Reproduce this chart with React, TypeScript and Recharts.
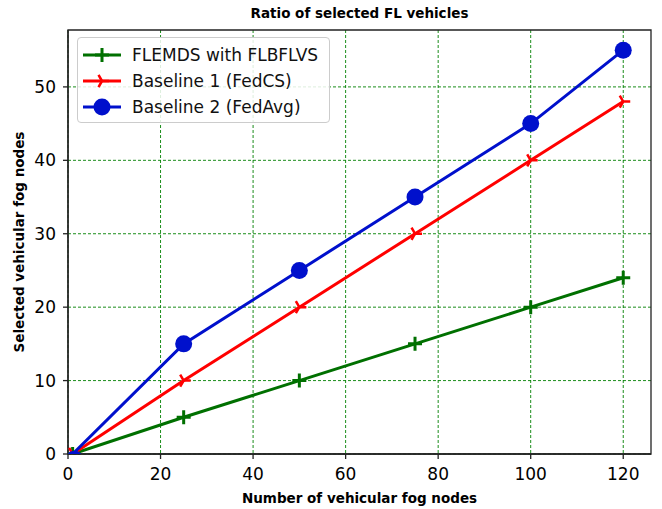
import React from "react";
import {
  LineChart,
  Line,
  XAxis,
  YAxis,
  CartesianGrid,
  Legend,
  ReferenceArea,
} from "recharts";

const nodes = [1, 25, 50, 75, 100, 120];
const flemds = [0, 5, 10, 15, 20, 24];
const fedcs = [0, 10, 20, 30, 40, 48];
const fedavg = [0, 15, 25, 35, 45, 55];
const xTicks = [0, 20, 40, 60, 80, 100, 120];
const yTicks = [0, 10, 20, 30, 40, 50];
const xMax = 126;
const yMax = 57.75;

const GREEN = "#007000";
const RED = "#ff0000";
const BLUE = "#0010cc";
const FONT = "'DejaVu Sans', sans-serif";

const data = nodes.map((n, i) => ({
  n,
  flemds: flemds[i],
  fedcs: fedcs[i],
  fedavg: fedavg[i],
}));

// markers sitting on the x axis are cut at the axis, like matplotlib's clipping
const plusPath = (cx: number, cy: number, half = false) =>
  `M${cx - 7},${cy}H${cx + 7}M${cx},${cy - 7}V${half ? cy : cy + 7}`;
const triPath = (cx: number, cy: number, half = false) =>
  `M${cx},${cy}L${cx + 7},${cy}M${cx},${cy}L${cx - 3.5},${cy - 6.06}` +
  (half ? "" : `M${cx},${cy}L${cx - 3.5},${cy + 6.06}`);

const PlusDot = (p: any) => (
  <path key={p.index} d={plusPath(p.cx, p.cy, p.value === 0)} stroke={GREEN} strokeWidth={3} fill="none" />
);
const TriDot = (p: any) => (
  <path key={p.index} d={triPath(p.cx, p.cy, p.value === 0)} stroke={RED} strokeWidth={2.5} fill="none" />
);
const CircleDot = (p: any) =>
  p.value === 0 ? (
    <path
      key={p.index}
      d={`M${p.cx - 5},${p.cy}A8.5,8.5 0 0 1 ${p.cx + 8.5},${p.cy}Z`}
      fill={BLUE}
    />
  ) : (
    <circle key={p.index} cx={p.cx} cy={p.cy} r={8.5} fill={BLUE} />
  );

const legendItems = [
  { label: "FLEMDS with FLBFLVS", color: GREEN, kind: "plus" },
  { label: "Baseline 1 (FedCS)", color: RED, kind: "tri" },
  { label: "Baseline 2 (FedAvg)", color: BLUE, kind: "circle" },
];

const LegendBox = () => (
  <div
    style={{
      border: "1px solid #cccccc",
      borderRadius: 4,
      background: "rgba(255,255,255,0.85)",
      padding: "4px 0 2px 4px",
      fontFamily: FONT,
      fontSize: 17,
      color: "#111",
    }}
  >
    {legendItems.map((it) => (
      <div key={it.label} style={{ display: "flex", alignItems: "center", height: 26 }}>
        <svg width={50} height={20} style={{ marginRight: 5 }}>
          <line x1={1} y1={10} x2={39} y2={10} stroke={it.color} strokeWidth={3} />
          {it.kind === "plus" && (
            <path d={plusPath(20, 10)} stroke={it.color} strokeWidth={3} fill="none" />
          )}
          {it.kind === "tri" && (
            <path d={triPath(20, 10)} stroke={it.color} strokeWidth={2.5} fill="none" />
          )}
          {it.kind === "circle" && <circle cx={20} cy={10} r={8.5} fill={it.color} />}
        </svg>
        <span style={{ marginLeft: -5, whiteSpace: "nowrap" }}>{it.label}</span>
      </div>
    ))}
  </div>
);

export default function App() {
  return (
    <div style={{ position: "absolute", left: 0, top: 0, width: 662, height: 509, background: "#fff" }}>
      <div
        style={{
          position: "absolute",
          left: 68,
          width: 583,
          top: 5,
          textAlign: "center",
          fontFamily: FONT,
          fontWeight: "bold",
          fontSize: 13.5,
          color: "#000",
        }}
      >
        Ratio of selected FL vehicles
      </div>
      <LineChart
        width={662}
        height={509}
        data={data}
        margin={{ top: 30, right: 11, left: 0, bottom: 0 }}
      >
        <CartesianGrid
          stroke="#008000"
          strokeDasharray="3 2"
          strokeWidth={0.9}
          verticalValues={xTicks}
          horizontalValues={yTicks}
        />
        <XAxis
          dataKey="n"
          type="number"
          domain={[0, xMax]}
          ticks={xTicks}
          allowDataOverflow
          height={55}
          tickSize={5}
          tickMargin={9}
          stroke="#222"
          strokeWidth={1.3}
          tick={{ fill: "#000", fontSize: 17, fontFamily: FONT }}
          label={{
            value: "Number of vehicular fog nodes",
            position: "insideBottom",
            offset: 6,
            style: { fontWeight: "bold", fontSize: 13.5, fontFamily: FONT, fill: "#000" },
          }}
        />
        <YAxis
          type="number"
          domain={[0, yMax]}
          ticks={yTicks}
          allowDataOverflow
          width={68}
          tickSize={5}
          tickMargin={7}
          stroke="#222"
          strokeWidth={1.3}
          tick={{ fill: "#000", fontSize: 17, fontFamily: FONT }}
          label={{
            value: "Selected vehicular fog nodes",
            angle: -90,
            position: "insideLeft",
            offset: 19,
            style: { textAnchor: "middle", fontWeight: "bold", fontSize: 13.5, fontFamily: FONT, fill: "#000" },
          }}
        />
        <ReferenceArea
          x1={0}
          x2={xMax}
          y1={0}
          y2={yMax}
          fill="none"
          fillOpacity={0}
          stroke="#222"
          strokeWidth={1.3}
        />
        <Legend
          layout="vertical"
          align="center"
          verticalAlign="middle"
          wrapperStyle={{ top: 37, left: 77, width: 253 }}
          content={() => <LegendBox />}
        />
        <Line dataKey="flemds" stroke={GREEN} strokeWidth={3} dot={PlusDot} isAnimationActive={false} />
        <Line dataKey="fedcs" stroke={RED} strokeWidth={3} dot={TriDot} isAnimationActive={false} />
        <Line dataKey="fedavg" stroke={BLUE} strokeWidth={3} dot={CircleDot} isAnimationActive={false} />
      </LineChart>
    </div>
  );
}
